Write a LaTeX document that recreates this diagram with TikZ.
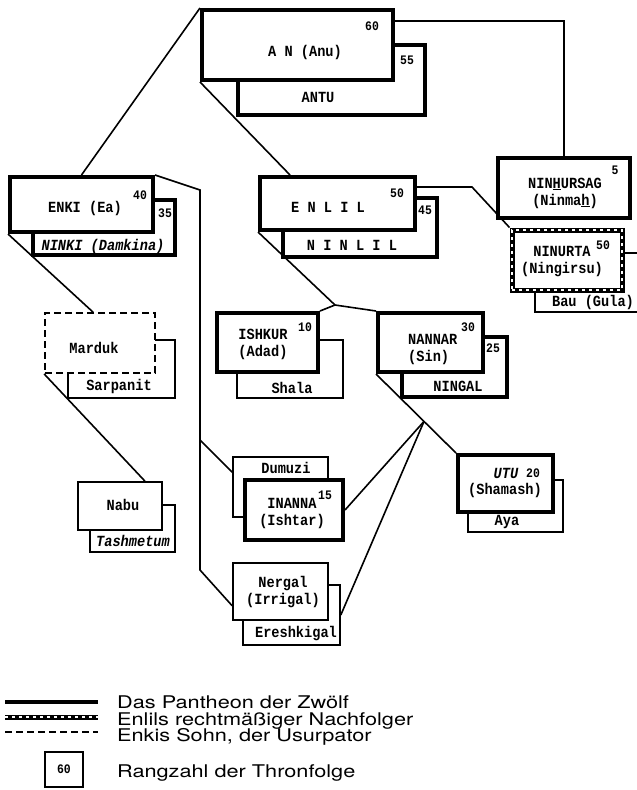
\documentclass[tikz,border=0pt]{standalone}
\usepackage{fontspec}
\newfontfamily\godfont{Liberation Mono}[FakeStretch=0.88]
\newfontfamily\legendfont{TeX Gyre Heros}[FakeStretch=1.24]
\usetikzlibrary{fit}
\usetikzlibrary{backgrounds}

\tikzset{
  god/.style={draw, line width=4pt, fill=white, inner sep=0pt},
  consort/.style={draw, line width=1.6pt, fill=white, inner sep=0pt},
  heir/.style={draw, line width=5pt, fill=white, inner sep=0pt,
    postaction={draw=white, line width=1.2pt, dash pattern=on 3pt off 4pt}},
  usurper/.style={draw, line width=1.8pt, dash pattern=on 7pt off 4pt, fill=white, inner sep=0pt},
  godname/.style={font=\godfont\bfseries\fontsize{15.5}{17}\selectfont, align=center, inner sep=0pt},
  godslant/.style={godname, font=\godfont\bfseries\itshape\fontsize{15.5}{17}\selectfont},
  ranknum/.style={font=\godfont\bfseries\fontsize{13}{13}\selectfont, inner sep=0pt},
  link/.style={line width=1.6pt},
  keytext/.style={font=\legendfont\fontsize{17.5}{16}\selectfont, anchor=base west, inner sep=0pt},
}

\begin{document}
\begin{tikzpicture}[x=1pt, y=-1pt]
  \useasboundingbox (0,0) rectangle (637,790);

  % An and Antu
  \node[god, fit={(238,45) (425,115)}] (antu) {};
  \node[god, fit={(202,10) (393,80)}] (an) {};
  \node[godname] (an-t) at (305,52) {A N (Anu)};
  \node[ranknum] (an-r) at (372,26) {60};
  \node[godname] (antu-t) at (318,97) {ANTU};
  \node[ranknum] (antu-r) at (407,60) {55};

  % Enki and Ninki
  \node[god, fit={(33,200) (175,255)}] (ninki) {};
  \node[god, fit={(10,177) (153,232)}] (enki) {};
  \node[godname] (enki-t) at (85,208) {ENKI (Ea)};
  \node[ranknum] (enki-r) at (140,195) {40};
  \node[godslant] (ninki-t) at (103,246) {NINKI (Damkina)};
  \node[ranknum] (ninki-r) at (165,213) {35};

  % Enlil and Ninlil
  \node[god, fit={(283,198) (437,257)}] (ninlil) {};
  \node[god, fit={(260,177) (415,230)}] (enlil) {};
  \node[godname] (enlil-t) at (328,207) {E N L I L};
  \node[ranknum] (enlil-r) at (397,193) {50};
  \node[godname] (ninlil-t) at (352,245) {N I N L I L};
  \node[ranknum] (ninlil-r) at (425,210) {45};

  % Ninhursag
  \node[god, fit={(498,158) (630,218)}] (ninhursag) {};
  \node[godname] (ninhursag-t) at (565,193) {NIN\underline{H}URSAG\\(Ninma\underline{h})};
  \node[ranknum] (ninhursag-r) at (615,170) {5};

  % Ninurta and Bau
  \node[consort, fit={(535,253) (650,312)}] (bau) {};
  \node[heir, fit={(512,230) (622,290)}] (ninurta) {};
  \node[godname] (ninurta-t) at (562,262) {NINURTA\\(Ningirsu)};
  \node[ranknum] (ninurta-r) at (603,245) {50};
  \node[godname] (bau-t) at (593,302) {Bau (Gula)};

  % Marduk and Sarpanit
  \node[consort, fit={(68,340) (175,398)}] (sarpanit) {};
  \node[usurper, fit={(45,313) (155,373)}] (marduk) {};
  \node[godname] (marduk-t) at (94,348) {Marduk};
  \node[godname] (sarpanit-t) at (119,386) {Sarpanit};

  % Nabu and Tashmetum
  \node[consort, fit={(90,505) (175,552)}] (tashmetum) {};
  \node[consort, fit={(78,482) (162,530)}] (nabu) {};
  \node[godname] (nabu-t) at (123,505) {Nabu};
  \node[godslant] (tashmetum-t) at (133,541) {Tashmetum};

  % Ishkur and Shala
  \node[consort, fit={(237,340) (343,398)}] (shala) {};
  \node[god, fit={(217,313) (318,372)}] (ishkur) {};
  \node[godname] (ishkur-t) at (263,344) {ISHKUR\\(Adad)};
  \node[ranknum] (ishkur-r) at (305,327) {10};
  \node[godname] (shala-t) at (292,388) {Shala};

  % Nannar and Ningal
  \node[god, fit={(402,337) (507,397)}] (ningal) {};
  \node[god, fit={(378,313) (483,372)}] (nannar) {};
  \node[godname, align=left, anchor=west] (nannar-t) at (408,349) {NANNAR\\(Sin)};
  \node[ranknum] (nannar-r) at (468,327) {30};
  \node[godname] (ningal-t) at (458,386) {NINGAL};
  \node[ranknum] (ningal-r) at (493,348) {25};

  % Utu and Aya
  \node[consort, fit={(468,480) (563,532)}] (aya) {};
  \node[god, fit={(458,455) (553,512)}] (utu) {};
  \node[godslant] (utu-t) at (506,473) {UTU};
  \node[ranknum] (utu-r) at (533,473) {20};
  \node[godname] (utu-s) at (505,490) {(Shamash)};
  \node[godname] (aya-t) at (507,522) {Aya};

  % Inanna and Dumuzi
  \node[consort, fit={(233,457) (328,517)}] (dumuzi) {};
  \node[god, fit={(245,480) (343,540)}] (inanna) {};
  \node[godname] (dumuzi-t) at (286,468) {Dumuzi};
  \node[godname] (inanna-t) at (292,513) {INANNA\\(Ishtar)};
  \node[ranknum] (inanna-r) at (325,495) {15};

  % Nergal and Ereshkigal
  \node[consort, fit={(243,585) (340,645)}] (ereshkigal) {};
  \node[consort, fit={(233,563) (328,620)}] (nergal) {};
  \node[godname] (nergal-t) at (283,592) {Nergal\\(Irrigal)};
  \node[godname] (ereshkigal-t) at (296,634) {Ereshkigal};

  \coordinate (enkitop) at (200,190);
  \coordinate (enkifork) at (200,440);
  \coordinate (enkibottom) at (200,570);
  \coordinate (enlilfork) at (335,305);

  \begin{scope}[on background layer]
    \draw[link] (an.north west) -- (enki.north);
    \draw[link] (an.south west) -- ([xshift=32pt]enlil.north west);
    \draw[link] ([yshift=-13pt]an.north east) -| (ninhursag.north);
    \draw[link] ([yshift=-12pt]enlil.north east) -- ++(55,0) -- (ninurta.north west);
    \draw[link] (enki.north east) -- (enkitop) -- (enkibottom) -- ([yshift=15pt]nergal.south west);
    \draw[link] (enkifork) -- ([yshift=-16pt]dumuzi.north west);
    \draw[link] (enki.south west) -- ([xshift=-7pt]marduk.north);
    \draw[link] (marduk.south west) -- ([xshift=25pt]nabu.north);
    \draw[link] (enlil.south west) -- (enlilfork);
    \draw[link] (enlilfork) -- (ishkur.north east);
    \draw[link] (enlilfork) -- (nannar.north west);
    \draw[link] (nannar.south west) -- coordinate[pos=0.6] (nannarfork) (utu.north west);
    \draw[link] (nannarfork) -- (inanna.east);
    \draw[link] (nannarfork) -- (ereshkigal.east);
  \end{scope}

  % key
  \draw[line width=4pt] (5,702) -- (98,702);
  \draw[line width=5pt, postaction={draw=white, line width=1.2pt, dash pattern=on 3pt off 4pt}] (5,717) -- (98,717);
  \draw[line width=1.8pt, dash pattern=on 7pt off 4pt] (5,732) -- (98,732);
  \node[consort, line width=2.5pt, fit={(45,752) (83,787)}] (keybox) {};
  \node[ranknum] (keybox-r) at (keybox) {60};
  \node[keytext] (key1) at (117,708) {Das Pantheon der Zwölf};
  \node[keytext] (key2) at (117,725) {Enlils rechtmäßiger Nachfolger};
  \node[keytext] (key3) at (117,741) {Enkis Sohn, der Usurpator};
  \node[keytext] (key4) at (117,777) {Rangzahl der Thronfolge};
\end{tikzpicture}
\end{document}
